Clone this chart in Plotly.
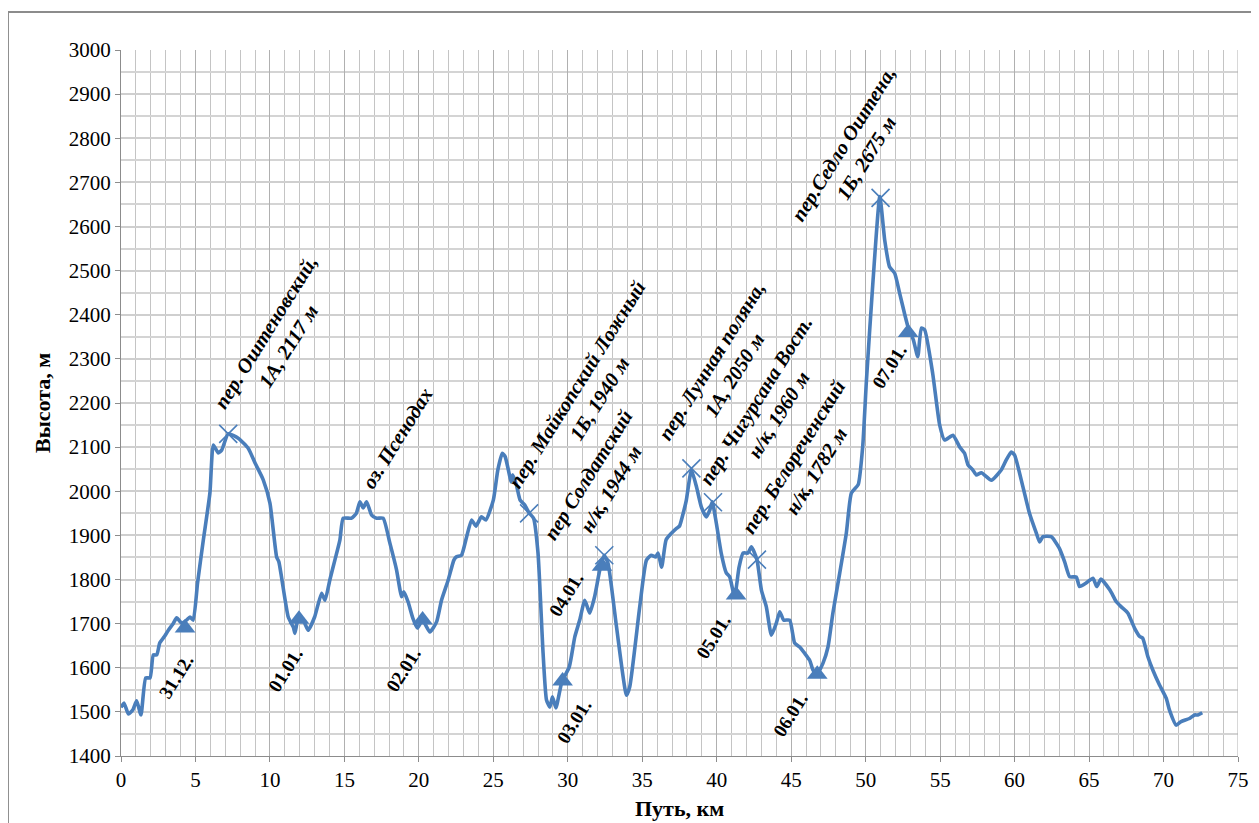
import plotly.graph_objects as go

# --- profile data (km, elevation m) ---
dist_km = [0.0, 0.2, 0.5, 0.8, 1.05, 1.34, 1.66, 1.95, 2.17, 2.4, 2.6, 2.9, 3.18, 3.5, 3.74, 4.07, 4.4, 4.63, 4.85,
           5.14, 5.53, 5.97, 6.2, 6.53, 6.76, 7.2, 7.87, 8.55, 9.0, 9.55, 10.0, 10.45, 10.6, 11.23, 11.57, 11.68,
           11.9, 12.23, 12.57, 13.0, 13.47, 13.7, 14.03, 14.36, 14.7, 14.92, 15.48, 15.8, 16.04, 16.26, 16.49,
           16.83, 17.16, 17.6, 18.05, 18.5, 18.84, 18.99, 19.28, 19.6, 19.9, 20.24, 20.74, 21.19, 21.52, 21.97,
           22.35, 22.5, 22.86, 23.2, 23.54, 23.83, 24.2, 24.5, 25.0, 25.3, 25.6, 25.8, 26.2, 26.3, 26.55, 26.8,
           27.1, 27.4, 27.7, 28.0, 28.34, 28.57, 28.8, 28.97, 29.2, 29.6, 30.1, 30.47, 30.8, 31.14, 31.47, 31.8,
           32.15, 32.44, 32.7, 33.27, 33.94, 34.16, 34.83, 35.28, 35.6, 35.9, 36.06, 36.3, 36.6, 36.96, 37.3,
           37.5, 37.8, 37.96, 38.3, 38.64, 38.97, 39.3, 39.53, 39.7, 39.97, 40.3, 40.64, 40.87, 41.2, 41.5,
           41.77, 42.1, 42.33, 42.7, 43.0, 43.33, 43.67, 44.0, 44.23, 44.5, 44.9, 45.23, 45.57, 45.9, 46.24,
           46.46, 46.7, 47.13, 47.47, 47.8, 48.26, 48.7, 49.04, 49.5, 49.8, 50.05, 50.5, 50.95, 51.28, 51.6,
           51.95, 52.28, 52.6, 52.84, 53.2, 53.5, 53.74, 53.96, 54.5, 54.97, 55.3, 55.86, 56.3, 56.64, 56.87,
           57.2, 57.43, 57.77, 58.44, 59.1, 59.44, 59.78, 60.0, 60.56, 61.0, 61.46, 61.68, 61.9, 62.46, 63.0,
           63.36, 63.7, 64.14, 64.36, 64.8, 65.26, 65.52, 65.8, 66.4, 66.82, 67.16, 67.6, 68.05, 68.4, 68.6,
           68.95, 69.28, 69.73, 70.18, 70.4, 70.85, 71.18, 71.74, 72.08, 72.3, 72.6]
elev_m = [1510, 1520, 1495, 1505, 1525, 1493, 1577, 1577, 1629, 1629, 1656, 1670, 1685, 1700, 1713, 1701, 1708, 1715, 1708,
          1792, 1890, 1996, 2105, 2087, 2093, 2130, 2120, 2097, 2064, 2026, 1973, 1851, 1840, 1715, 1692, 1678,
          1712, 1708, 1685, 1715, 1769, 1753, 1800, 1844, 1890, 1939, 1939, 1950, 1976, 1962, 1976,
          1946, 1939, 1939, 1883, 1822, 1761, 1772, 1749, 1712, 1690, 1708, 1681, 1704, 1753, 1799,
          1844, 1851, 1855, 1896, 1935, 1921, 1942, 1935, 1980, 2048, 2086, 2078, 2021, 2037, 2014, 1980,
          1969, 1951, 1939, 1860, 1633, 1527, 1511, 1534, 1509, 1568, 1602, 1670, 1708, 1753, 1724, 1761,
          1822, 1855, 1837, 1693, 1538, 1557, 1738, 1844, 1855, 1851, 1860, 1828, 1890, 1905, 1916,
          1921, 1957, 1980, 2048, 2010, 1964, 1942, 1957, 1976, 1928, 1860, 1815, 1806, 1761, 1828,
          1860, 1860, 1874, 1845, 1776, 1738, 1674, 1701, 1727, 1708, 1708, 1656, 1647, 1633, 1617,
          1595, 1584, 1610, 1647, 1724, 1815, 1905, 1996, 2015, 2101, 2250, 2480, 2668, 2569, 2509,
          2494, 2449, 2404, 2373, 2343, 2305, 2370, 2366, 2267, 2150, 2116, 2127, 2101, 2086, 2060,
          2048, 2037, 2042, 2025, 2048, 2071, 2089, 2082, 2010, 1950, 1905, 1885, 1897, 1897, 1871,
          1840, 1806, 1806, 1784, 1792, 1803, 1784, 1801, 1776, 1750, 1738, 1724, 1690, 1671, 1667,
          1625, 1595, 1561, 1531, 1504, 1470, 1478, 1485, 1493, 1493, 1498]

# --- passes (X markers) ---
pass_km = [7.2, 27.4, 32.45, 38.3, 39.75, 42.7, 51.0]
pass_m = [2130, 1950, 1855, 2052, 1975, 1845, 2665]
pass_labels = ["пер. Оштеновский,<br>1А, 2117 м",
               "пер. Майкопский Ложный<br>1Б, 1940 м",
               "пер Солдатский<br>н/к, 1944 м",
               "пер. Лунная поляна,<br>1А, 2050 м",
               "пер. Чигурсана Вост.<br>н/к, 1960 м",
               "пер. Белореченский<br>н/к, 1782 м",
               "пер.Седло Оштена,<br>1Б, 2675 м"]
pass_label_km = [10.45, 31.4, 32.15, 40.45, 43.4, 45.95, 49.3]
pass_label_m = [2345, 2225, 2022, 2280, 2190, 2062, 2772]

lake_label = "оз. Псенодах"
lake_label_km = 18.55
lake_label_m = 2121

# --- camps (triangles) ---
camp_km = [4.3, 11.95, 20.25, 29.65, 32.3, 41.3, 46.75, 52.85]
camp_m = [1690, 1710, 1708, 1570, 1830, 1765, 1585, 2360]
camp_labels = ["31.12.", "01.01.", "02.01.", "03.01.", "04.01.", "05.01.", "06.01.", "07.01."]
camp_label_km = [3.69, 11.07, 18.99, 30.4, 29.87, 39.8, 44.97, 51.6]
camp_label_m = [1581, 1595, 1595, 1479, 1767, 1670, 1493, 2282]

x_ticks = list(range(0, 80, 5))
y_ticks = list(range(1400, 3100, 100))

BLUE = "#4A7EBB"
FONT = "Liberation Serif"

fig = go.Figure()
fig.add_trace(go.Scatter(x=dist_km, y=elev_m, mode="lines",
                         line=dict(color=BLUE, width=3.6, shape="spline", smoothing=0.5),
                         hoverinfo="skip", showlegend=False))
fig.add_trace(go.Scatter(x=pass_km, y=pass_m, mode="markers",
                         marker=dict(symbol="x-thin", size=18, line=dict(color=BLUE, width=1.6)),
                         showlegend=False))
fig.add_trace(go.Scatter(x=camp_km, y=camp_m, mode="markers",
                         marker=dict(symbol="triangle-up", size=18, color=BLUE),
                         showlegend=False))

ANG = -58
for t, xk, ym in zip(pass_labels, pass_label_km, pass_label_m):
    fig.add_annotation(x=xk, y=ym, text="<b><i>" + t + "</i></b>", showarrow=False,
                       textangle=ANG, xanchor="center", yanchor="middle",
                       font=dict(family=FONT, size=20.5, color="black"))
fig.add_annotation(x=lake_label_km, y=lake_label_m, text="<b><i>" + lake_label + "</i></b>", showarrow=False,
                   textangle=ANG, xanchor="center", yanchor="middle",
                   font=dict(family=FONT, size=20.5, color="black"))
for t, xk, ym in zip(camp_labels, camp_label_km, camp_label_m):
    fig.add_annotation(x=xk, y=ym, text="<b>" + t + "</b>", showarrow=False,
                       textangle=ANG, xanchor="center", yanchor="middle",
                       font=dict(family=FONT, size=19, color="black"))

# axis titles
fig.add_annotation(xref="paper", yref="paper", x=0.5, y=-0.0737, text="<b>Путь, км</b>",
                   showarrow=False, xanchor="center", yanchor="middle",
                   font=dict(family=FONT, size=22, color="black"))
fig.add_annotation(xref="paper", yref="paper", x=-0.0707, y=0.5, text="<b>Высота, м</b>",
                   showarrow=False, textangle=-90, xanchor="center", yanchor="middle",
                   font=dict(family=FONT, size=22, color="black"))

# outer chart border
fig.add_shape(type="rect", xref="paper", yref="paper", x0=-0.1012, x1=1.05, y0=-0.2, y1=1.0538,
              line=dict(color="#8c8c8c", width=2), layer="below")

fig.update_layout(
    width=1259, height=823,
    margin=dict(l=113, r=29, t=42, b=75),
    paper_bgcolor="white", plot_bgcolor="white",
    font=dict(family=FONT, size=21, color="black"),
    xaxis=dict(range=[0, 75], tickvals=x_ticks, ticktext=[str(v) for v in x_ticks],
               showgrid=True, gridcolor="#b0b0b0", gridwidth=1,
               minor=dict(dtick=1, showgrid=True, gridcolor="#c4c4c4", gridwidth=1),
               showline=True, linecolor="#8c8c8c", linewidth=1,
               ticks="outside", ticklen=5, tickcolor="#8c8c8c",
               tickfont=dict(family=FONT, size=21), zeroline=False, mirror=False),
    yaxis=dict(range=[1400, 3000], tickvals=y_ticks, ticktext=[str(v) for v in y_ticks],
               showgrid=True, gridcolor="#cfcfcf", gridwidth=1.5,
               minor=dict(dtick=50, showgrid=True, gridcolor="#d4d4d4", gridwidth=1.5),
               showline=True, linecolor="#8c8c8c", linewidth=1,
               ticks="outside", ticklen=5, tickcolor="#8c8c8c",
               tickfont=dict(family=FONT, size=21), zeroline=False),
)
fig.add_shape(type="line", xref="x", yref="paper", x0=75, x1=75, y0=0, y1=1,
              line=dict(color="#b0b0b0", width=1))

fig.write_html("out.html")
